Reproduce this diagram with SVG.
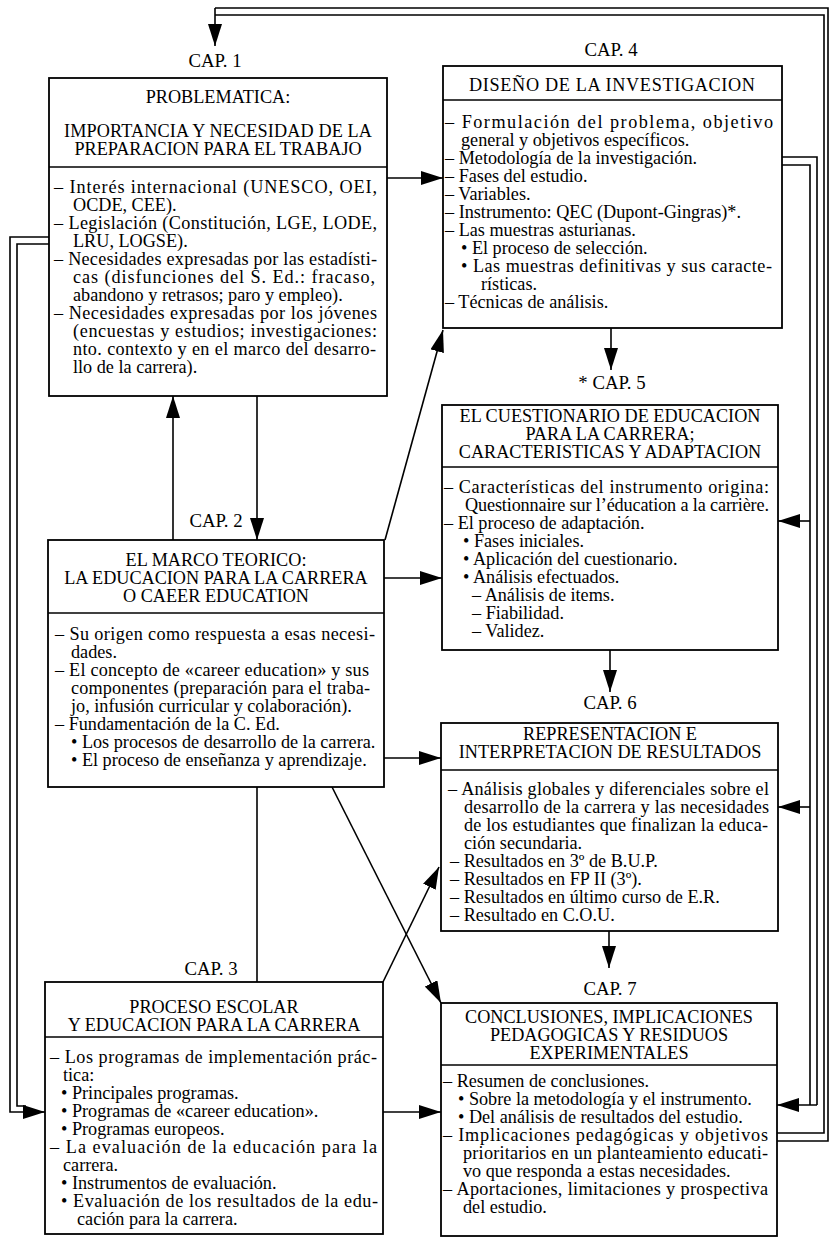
<svg xmlns="http://www.w3.org/2000/svg" width="829" height="1242" viewBox="0 0 829 1242">
<style>
.box{fill:#fff;stroke:#000;stroke-width:1.8}
.dv{stroke:#000;stroke-width:1.6}
text{font-family:"Liberation Serif","Times New Roman",serif;font-size:18.2px;fill:#000}
.h{text-anchor:middle}
.cap{text-anchor:middle;font-size:18.8px}
.ln{fill:none;stroke:#000;stroke-width:1.6}
.ar{marker-end:url(#ah)}
</style>
<defs>
<marker id="ah" viewBox="0 0 22 14" refX="22" refY="7" markerWidth="22" markerHeight="14" markerUnits="userSpaceOnUse" orient="auto">
<path d="M0,0 L22,7 L0,14 z" fill="#000"/>
</marker>
</defs>
<rect width="829" height="1242" fill="#fff"/>

<g id="connectors">
<path class="ln" d="M777,1141 H828 V8 H215"/>
<path class="ln ar" d="M215,8 V46"/>
<path class="ln" d="M777,1133 H824 V15 H215"/>
<path class="ln ar" d="M387,178 H443"/>
<path class="ln ar" d="M173,540 V396"/>
<path class="ln ar" d="M257,396 V540"/>
<path class="ln ar" d="M385,540 L443,330"/>
<path class="ln ar" d="M611,328 V370"/>
<path class="ln ar" d="M384,578 H442"/>
<path class="ln ar" d="M610,650 V692"/>
<path class="ln ar" d="M384,758 H441"/>
<path class="ln ar" d="M609,931 V968"/>
<path class="ln ar" d="M332,787 L441,1003"/>
<path class="ln ar" d="M383,982 L439,867"/>
<path class="ln" d="M257,787 V982"/>
<path class="ln ar" d="M383,1112 H441"/>
<path class="ln" d="M49,237 H10 V1112 H30"/>
<path class="ln ar" d="M28,1112 H45"/>
<path class="ln" d="M49,244 H17 V1106 H26"/>
<path class="ln" d="M782,157 H817 V1105"/>
<path class="ln" d="M782,165 H810 V1105"/>
<path class="ln ar" d="M817,1105 H777"/>
<path class="ln ar" d="M810,521 H778"/>
<path class="ln ar" d="M810,807 H778"/>
</g>

<g id="labels">
<text class="cap" x="215" y="67">CAP. 1</text>
<text class="cap" x="611" y="56">CAP. 4</text>
<text class="cap" x="216" y="527">CAP. 2</text>
<text class="cap" x="612" y="389">* CAP. 5</text>
<text class="cap" x="610" y="709">CAP. 6</text>
<text class="cap" x="211" y="975">CAP. 3</text>
<text class="cap" x="610" y="995">CAP. 7</text>
</g>

<g id="cap1">
<rect class="box" x="49" y="78" width="338" height="318"/>
<line class="dv" x1="49" y1="167" x2="387" y2="167"/>
<text class="h" x="218" y="103">PROBLEMATICA:</text>
<text class="h" x="218" y="137" textLength="308" lengthAdjust="spacing">IMPORTANCIA Y NECESIDAD DE LA</text>
<text class="h" x="218" y="155">PREPARACION PARA EL TRABAJO</text>
<text x="54" y="193" textLength="323" lengthAdjust="spacing">– Interés internacional (UNESCO, OEI,</text>
<text x="73" y="211">OCDE, CEE).</text>
<text x="54" y="229" textLength="323" lengthAdjust="spacing">– Legislación (Constitución, LGE, LODE,</text>
<text x="73" y="247">LRU, LOGSE).</text>
<text x="54" y="265" textLength="323" lengthAdjust="spacing">– Necesidades expresadas por las estadísti-</text>
<text x="73" y="283" textLength="302" lengthAdjust="spacing">cas (disfunciones del S. Ed.: fracaso,</text>
<text x="73" y="301">abandono y retrasos; paro y empleo).</text>
<text x="54" y="319" textLength="323" lengthAdjust="spacing">– Necesidades expresadas por los jóvenes</text>
<text x="73" y="337" textLength="304" lengthAdjust="spacing">(encuestas y estudios; investigaciones:</text>
<text x="73" y="355" textLength="303" lengthAdjust="spacing">nto. contexto y en el marco del desarro-</text>
<text x="73" y="373">llo de la carrera).</text>
</g>

<g id="cap4">
<rect class="box" x="443" y="66" width="339" height="262"/>
<line class="dv" x1="443" y1="100" x2="782" y2="100"/>
<text class="h" x="612" y="91" textLength="286" lengthAdjust="spacing">DISEÑO DE LA INVESTIGACION</text>
<text x="445" y="128" textLength="328" lengthAdjust="spacing">– Formulación del problema, objetivo</text>
<text x="461" y="146">general y objetivos específicos.</text>
<text x="445" y="164">– Metodología de la investigación.</text>
<text x="445" y="182">– Fases del estudio.</text>
<text x="445" y="200">– Variables.</text>
<text x="445" y="218">– Instrumento: QEC (Dupont-Gingras)*.</text>
<text x="445" y="236">– Las muestras asturianas.</text>
<text x="461" y="254">• El proceso de selección.</text>
<text x="461" y="272" textLength="311" lengthAdjust="spacing">• Las muestras definitivas y sus caracte-</text>
<text x="481" y="290">rísticas.</text>
<text x="445" y="308">– Técnicas de análisis.</text>
</g>

<g id="cap2">
<rect class="box" x="48" y="540" width="336" height="247"/>
<line class="dv" x1="48" y1="613" x2="384" y2="613"/>
<text class="h" x="216" y="566">EL MARCO TEORICO:</text>
<text class="h" x="216" y="584">LA EDUCACION PARA LA CARRERA</text>
<text class="h" x="216" y="602">O CAEER EDUCATION</text>
<text x="55" y="640" textLength="320" lengthAdjust="spacing">– Su origen como respuesta a esas necesi-</text>
<text x="71" y="658">dades.</text>
<text x="55" y="676" textLength="314" lengthAdjust="spacing">– El concepto de «career education» y sus</text>
<text x="71" y="694" textLength="299" lengthAdjust="spacing">componentes (preparación para el traba-</text>
<text x="71" y="712">jo, infusión curricular y colaboración).</text>
<text x="55" y="730">– Fundamentación de la C. Ed.</text>
<text x="71" y="748">• Los procesos de desarrollo de la carrera.</text>
<text x="71" y="766">• El proceso de enseñanza y aprendizaje.</text>
</g>

<g id="cap5">
<rect class="box" x="442" y="405" width="336" height="245"/>
<line class="dv" x1="442" y1="467" x2="778" y2="467"/>
<text class="h" x="610" y="422">EL CUESTIONARIO DE EDUCACION</text>
<text class="h" x="610" y="440">PARA LA CARRERA;</text>
<text class="h" x="610" y="458">CARACTERISTICAS Y ADAPTACION</text>
<text x="444" y="493" textLength="325" lengthAdjust="spacing">– Características del instrumento origina:</text>
<text x="465" y="511" textLength="304" lengthAdjust="spacing">Questionnaire sur l’éducation a la carrière.</text>
<text x="444" y="529">– El proceso de adaptación.</text>
<text x="463" y="547">• Fases iniciales.</text>
<text x="463" y="565">• Aplicación del cuestionario.</text>
<text x="463" y="583">• Análisis efectuados.</text>
<text x="472" y="601">– Análisis de items.</text>
<text x="472" y="619">– Fiabilidad.</text>
<text x="472" y="637">– Validez.</text>
</g>

<g id="cap6">
<rect class="box" x="441" y="723" width="337" height="208"/>
<line class="dv" x1="441" y1="770" x2="778" y2="770"/>
<text class="h" x="610" y="740">REPRESENTACION E</text>
<text class="h" x="610" y="758">INTERPRETACION DE RESULTADOS</text>
<text x="448" y="795" textLength="321" lengthAdjust="spacing">– Análisis globales y diferenciales sobre el</text>
<text x="464" y="813" textLength="305" lengthAdjust="spacing">desarrollo de la carrera y las necesidades</text>
<text x="464" y="831" textLength="304" lengthAdjust="spacing">de los estudiantes que finalizan la educa-</text>
<text x="464" y="849">ción secundaria.</text>
<text x="450" y="867">– Resultados en 3º de B.U.P.</text>
<text x="450" y="885">– Resultados en FP II (3º).</text>
<text x="450" y="903">– Resultados en último curso de E.R.</text>
<text x="450" y="921">– Resultado en C.O.U.</text>
</g>

<g id="cap3">
<rect class="box" x="45" y="982" width="338" height="252"/>
<line class="dv" x1="45" y1="1037" x2="383" y2="1037"/>
<text class="h" x="214" y="1013">PROCESO ESCOLAR</text>
<text class="h" x="214" y="1031">Y EDUCACION PARA LA CARRERA</text>
<text x="50" y="1063" textLength="327" lengthAdjust="spacing">– Los programas de implementación prác-</text>
<text x="63" y="1081">tica:</text>
<text x="61" y="1099">• Principales programas.</text>
<text x="61" y="1117">• Programas de «career education».</text>
<text x="61" y="1135">• Programas europeos.</text>
<text x="50" y="1153" textLength="327" lengthAdjust="spacing">– La evaluación de la educación para la</text>
<text x="63" y="1171">carrera.</text>
<text x="61" y="1189">• Instrumentos de evaluación.</text>
<text x="61" y="1207" textLength="317" lengthAdjust="spacing">• Evaluación de los resultados de la edu-</text>
<text x="77" y="1225">cación para la carrera.</text>
</g>

<g id="cap7">
<rect class="box" x="441" y="1003" width="336" height="233"/>
<line class="dv" x1="441" y1="1065" x2="777" y2="1065"/>
<text class="h" x="609" y="1023">CONCLUSIONES, IMPLICACIONES</text>
<text class="h" x="609" y="1041">PEDAGOGICAS Y RESIDUOS</text>
<text class="h" x="609" y="1059">EXPERIMENTALES</text>
<text x="443" y="1087">– Resumen de conclusiones.</text>
<text x="458" y="1105">• Sobre la metodología y el instrumento.</text>
<text x="458" y="1123">• Del análisis de resultados del estudio.</text>
<text x="443" y="1141" textLength="325" lengthAdjust="spacing">– Implicaciones pedagógicas y objetivos</text>
<text x="463" y="1159" textLength="305" lengthAdjust="spacing">prioritarios en un planteamiento educati-</text>
<text x="463" y="1177">vo que responda a estas necesidades.</text>
<text x="443" y="1195" textLength="325" lengthAdjust="spacing">– Aportaciones, limitaciones y prospectiva</text>
<text x="463" y="1213">del estudio.</text>
</g>
</svg>
